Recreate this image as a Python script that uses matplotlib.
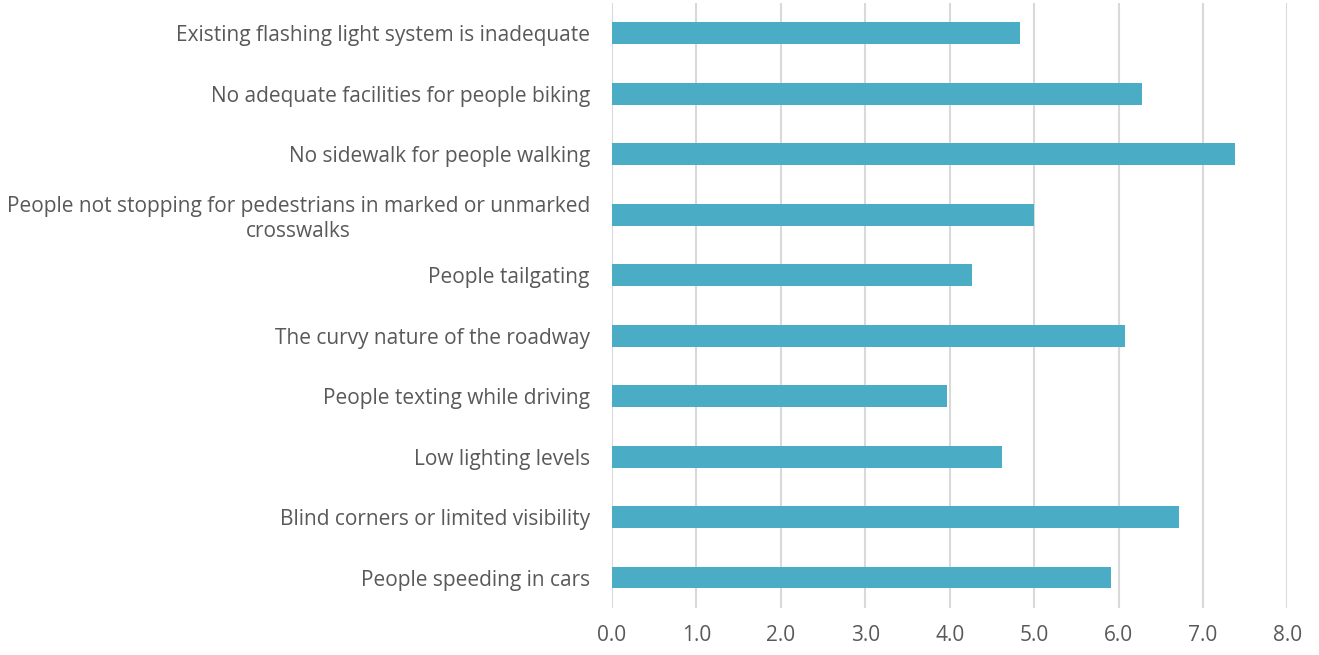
import matplotlib
matplotlib.use("Agg")
import matplotlib.pyplot as plt

categories = [
    "People speeding in cars",
    "Blind corners or limited visibility",
    "Low lighting levels",
    "People texting while driving",
    "The curvy nature of the roadway",
    "People tailgating",
    "People not stopping for pedestrians in marked or unmarked\ncrosswalks",
    "No sidewalk for people walking",
    "No adequate facilities for people biking",
    "Existing flashing light system is inadequate",
]
values = [5.91, 6.72, 4.62, 3.97, 6.08, 4.27, 5.00, 7.38, 6.28, 4.83]
x_ticks = [0, 1, 2, 3, 4, 5, 6, 7, 8]

plt.rcParams["font.family"] = ["Open Sans", "DejaVu Sans"]

fig = plt.figure(figsize=(13.19, 6.55), dpi=100)
ax = fig.add_axes([0.464, 0.072, 0.512, 0.9235])

ax.barh(range(len(categories)), values, height=0.36, color="#4BACC6", zorder=3)

ax.set_xlim(0, 8)
ax.set_ylim(-0.5, len(categories) - 0.5)
ax.set_xticks(x_ticks)
ax.set_xticklabels([f"{t:.1f}" for t in x_ticks])
ax.set_yticks(range(len(categories)))
ax.set_yticklabels(categories, multialignment="center", linespacing=1.25)

ax.grid(axis="x", color="#D9D9D9", linewidth=1.5, zorder=0)
for s in ax.spines.values():
    s.set_visible(False)

ax.tick_params(axis="y", length=0, pad=16, labelsize=15, labelcolor="#595959")
ax.tick_params(axis="x", length=0, pad=12, labelsize=15, labelcolor="#595959")

fig.savefig("out.png", dpi=100, facecolor="white")
